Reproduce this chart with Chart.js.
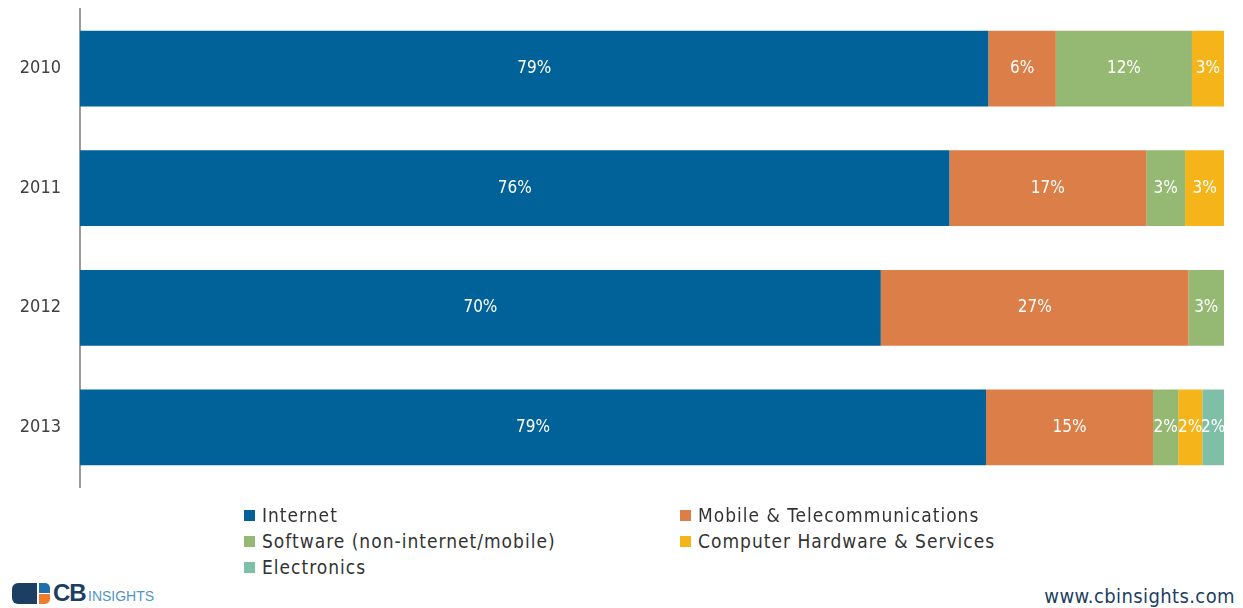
<!DOCTYPE html>
<html>
<head>
<meta charset="utf-8">
<script src="https://cdn.jsdelivr.net/npm/chart.js@4"></script>
<style>
  body { margin: 0; background: #fff; width: 1243px; height: 608px; overflow: hidden; position: relative; font-family: "DejaVu Sans Condensed", "Liberation Sans", sans-serif; }
  #wrap { position: absolute; left: 0; top: -21px; width: 1243px; height: 538px; }
  #legend { position: absolute; left: 244px; top: 504px; width: 900px; }
  .item { position: absolute; font-size: 19px; letter-spacing: 1px; color: #333; white-space: nowrap; }
  .item span { display: inline-block; width: 11px; height: 11px; margin-right: 7px; vertical-align: 1px; }
  #logo { position: absolute; left: 12px; top: 580px; height: 26px; }
  #url { position: absolute; right: 8px; top: 584px; font-size: 20px; color: #1d3e63; letter-spacing: 0.4px; }
</style>
</head>
<body>
<div id="wrap"><canvas id="myChart"></canvas></div>
<div id="legend"></div>
<div id="logo">
  <div style="position:absolute;left:0;top:3px;width:25px;height:21px;background:#1d3e63;border-radius:6px 0 0 6px;"></div>
  <div style="position:absolute;left:27px;top:3px;width:11px;height:10px;background:#1f6fa8;border-radius:0 5px 0 0;"></div>
  <div style="position:absolute;left:27px;top:14px;width:11px;height:10px;background:#ef7d2d;border-radius:0 0 5px 0;"></div>
  <div style="position:absolute;left:41px;top:-1px;font:bold 24px 'Liberation Sans';color:#1d3e63;letter-spacing:-1px;">CB</div>
  <div style="position:absolute;left:76px;top:8px;font:14px 'Liberation Sans';color:#4f95c9;">INSIGHTS</div>
</div>
<div id="url">www.cbinsights.com</div>
<script>
'use strict';

let years = ['2010', '2011', '2012', '2013'];
let sectors = ['Internet', 'Mobile & Telecommunications', 'Software (non-internet/mobile)', 'Computer Hardware & Services', 'Electronics'];
let colors = ['#006298', '#dc7e47', '#95b973', '#f5b51a', '#7fbfa7'];

// shares in % (labels show rounded values)
let internet = [79.4, 76, 70, 79.2];
let mobile = [5.9, 17.2, 26.9, 14.6];
let software = [11.9, 3.4, 3.1, 2.2];
let hardware = [2.8, 3.4, 0, 2.1];
let electronics = [0, 0, 0, 1.9];

let seriesData = [internet, mobile, software, hardware, electronics];

// legend in two columns
let legendEl = document.getElementById('legend');
let legendPos = [[0, 0], [436, 0], [0, 26], [436, 26], [0, 52]];
for (let i = 0; i < sectors.length; i++) {
    let div = document.createElement('div');
    div.className = 'item';
    div.style.left = legendPos[i][0] + 'px';
    div.style.top = legendPos[i][1] + 'px';
    div.innerHTML = '<span style="background:' + colors[i] + '"></span>';
    div.appendChild(document.createTextNode(sectors[i]));
    legendEl.appendChild(div);
}

// white percentage labels inside each segment
let barLabels = {
    id: 'barLabels',
    afterDatasetsDraw(chart) {
        let ctx = chart.ctx;
        ctx.save();
        ctx.fillStyle = '#fff';
        ctx.font = '17px "DejaVu Sans Condensed", sans-serif';
        ctx.textAlign = 'center';
        ctx.textBaseline = 'middle';
        chart.data.datasets.forEach(function (ds, i) {
            chart.getDatasetMeta(i).data.forEach(function (bar, j) {
                if (!ds.data[j]) return;
                let cx = (bar.x + bar.base) / 2;
                ctx.fillText(Math.round(ds.data[j]) + '%', cx, bar.y);
            });
        });
        ctx.restore();
    }
};

let datasets = [];
for (let i = 0; i < sectors.length; i++) {
    datasets.push({
        label: sectors[i],
        data: seriesData[i],
        backgroundColor: colors[i],
        borderWidth: 0,
        categoryPercentage: 1,
        barPercentage: 0.633
    });
}

let ctx = document.getElementById('myChart').getContext('2d');
let myChart = new Chart(ctx, {
    type: 'bar',
    data: { labels: years, datasets: datasets },
    plugins: [barLabels],
    options: {
        indexAxis: 'y',
        responsive: true,
        maintainAspectRatio: false,
        animation: false,
        layout: { padding: { top: 8, bottom: 7, right: 19, left: 0 } },
        plugins: { legend: { display: false }, tooltip: { enabled: false } },
        scales: {
            x: { stacked: true, min: 0, max: 100, display: false },
            y: {
                stacked: true,
                grid: { display: false, drawTicks: false },
                border: { color: '#9a9a9a', width: 2 },
                ticks: { color: '#404040', font: { size: 18, family: '"DejaVu Sans Condensed", sans-serif' }, padding: 19 },
                afterFit(scale) { scale.width = 80; }
            }
        }
    }
});
</script>
</body>
</html>
